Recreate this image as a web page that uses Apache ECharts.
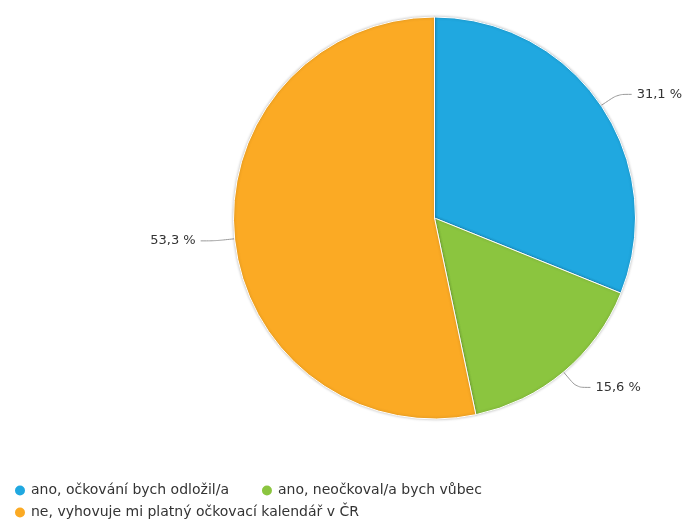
<!DOCTYPE html>
<html>
<head>
<meta charset="utf-8">
<script src="https://cdn.jsdelivr.net/npm/echarts@6/dist/echarts.min.js"></script>
<style>
  html, body { margin: 0; padding: 0; background: #fff; }
  #chart { width: 684px; height: 519px; }
</style>
</head>
<body>
<div id="chart"></div>
<script>
// Answer categories and their shares (percent)
const categories = [
  'ano, očkování bych odložil/a',
  'ano, neočkoval/a bych vůbec',
  'ne, vyhovuje mi platný očkovací kalendář v ČR'
];
const shares = [31.1, 15.6, 53.3];
const sliceColors = ['#20a8e0', '#8bc53f', '#fbaa24'];

const chart = echarts.init(document.getElementById('chart'));

chart.setOption({
  animation: false,
  color: sliceColors,
  legend: {
    data: categories,
    left: 8,
    top: 477,
    width: 600,
    orient: 'horizontal',
    icon: 'circle',
    itemWidth: 12,
    itemHeight: 12,
    itemGap: 5,
    textStyle: {
      fontFamily: 'DejaVu Sans',
      fontSize: 14,
      color: '#333',
      padding: [0, 26, 0, 0],
      lineHeight: 17
    }
  },
  series: [{
    type: 'pie',
    center: [434.5, 218],
    radius: 201,
    startAngle: 90,
    clockwise: true,
    data: categories.map((name, i) => ({ name, value: shares[i] })),
    itemStyle: {
      borderColor: '#fff',
      borderWidth: 1,
      shadowBlur: 3,
      shadowColor: 'rgba(0,0,0,0.25)'
    },
    label: {
      show: true,
      formatter: p => p.value.toFixed(1).replace('.', ',') + ' %',
      fontFamily: 'DejaVu Sans',
      fontSize: 13,
      color: '#333',
      overflow: 'none'
    },
    labelLine: {
      show: true,
      length: 20,
      length2: 14,
      smooth: 0.3,
      lineStyle: { color: '#999', width: 1 }
    }
  }]
});
</script>
</body>
</html>
